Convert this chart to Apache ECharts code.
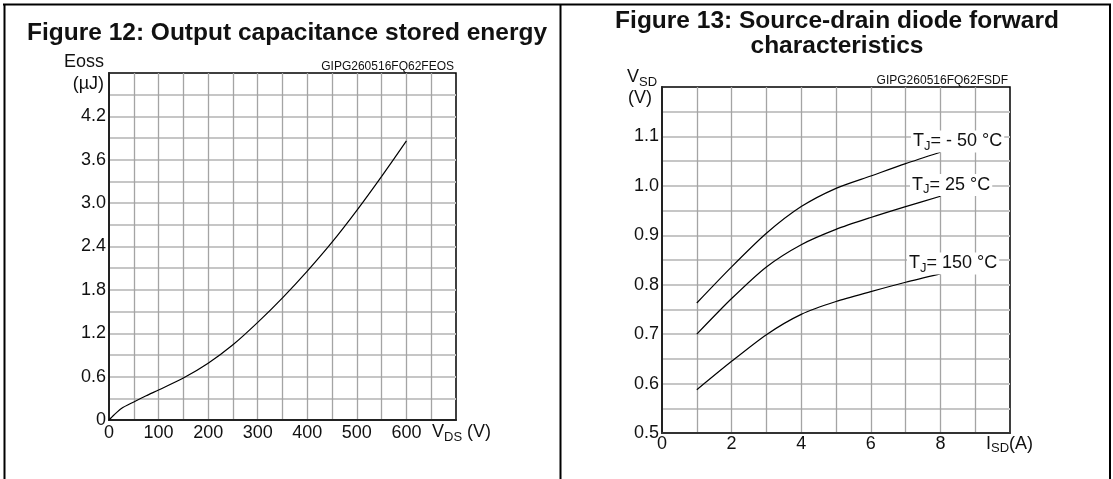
<!DOCTYPE html>
<html>
<head>
<meta charset="utf-8">
<title>Figure 12 / Figure 13</title>
<script src="https://cdn.jsdelivr.net/npm/echarts@6/dist/echarts.min.js"></script>
</head>
<body style="margin:0;background:#fff">
<div id="main" style="width:1113px;height:479px;"></div>
<script>
// Figure 12: output capacitance stored energy
var vds = [0, 10, 25, 50, 75, 100, 150, 200, 250, 300, 350, 400, 450, 500, 550, 600];
var eoss = [0, 0.07, 0.16, 0.25, 0.335, 0.415, 0.58, 0.785, 1.04, 1.35, 1.69, 2.06, 2.46, 2.90, 3.37, 3.86];
var vdsTicks = [0, 100, 200, 300, 400, 500, 600];
var eossTicks = ['0', '0.6', '1.2', '1.8', '2.4', '3.0', '3.6', '4.2'];

// Figure 13: source-drain diode forward characteristics
var isd = [1, 2, 3, 4, 5, 6, 7, 8];
var vsdM50 = [0.763, 0.836, 0.904, 0.958, 0.995, 1.02, 1.045, 1.068];
var vsd25 = [0.70, 0.772, 0.836, 0.881, 0.912, 0.936, 0.958, 0.979];
var vsd150 = [0.5875, 0.645, 0.699, 0.740, 0.766, 0.786, 0.805, 0.822];
var isdTicks = [0, 2, 4, 6, 8];
var vsdTicks = ['0.5', '0.6', '0.7', '0.8', '0.9', '1.0', '1.1'];

var FONT = '"Liberation Sans", Arial, sans-serif';

function pairs(xs, ys) {
    return xs.map(function (x, i) { return [x, ys[i]]; });
}
function pick(list) {
    return function (v) {
        for (var i = 0; i < list.length; i++) {
            if (Math.abs(parseFloat(list[i]) - v) < 1e-6) return String(list[i]);
        }
        return '';
    };
}

var vLines = { show: true, showMinLine: false, showMaxLine: false, lineStyle: { color: '#a4a4a4', width: 1.3 } };
var hLines = { show: true, showMinLine: false, showMaxLine: false, lineStyle: { color: '#c6c6c6', width: 2 } };
var tickFont = { fontSize: 18, color: '#111', fontFamily: FONT };
var curve = { color: '#000', width: 1.2 };

var sub = {
    m: { fontSize: 18, lineHeight: 22, verticalAlign: 'middle', fontFamily: FONT, color: '#111' },
    s: { fontSize: 13, lineHeight: 22, verticalAlign: 'bottom', fontFamily: FONT, color: '#111' }
};

function txt(x, y, text, align, extra) {
    var st = {
        text: text, rich: sub, fill: '#111',
        font: '18px ' + FONT,
        align: align, textAlign: align,
        verticalAlign: 'middle', textVerticalAlign: 'middle'
    };
    for (var k in extra) st[k] = extra[k];
    return { type: 'text', x: x, y: y, z: 100, style: st };
}
function border(x1, y1, x2, y2) {
    return { type: 'line', z: 100, shape: { x1: x1, y1: y1, x2: x2, y2: y2 }, style: { stroke: '#000', lineWidth: 2 } };
}
var titleFont = 'bold 24.5px ' + FONT;

var chart = echarts.init(document.getElementById('main'));
chart.setOption({
    animation: false,
    backgroundColor: '#fff',
    grid: [
        { left: 109, top: 73, width: 347, height: 347, show: true, backgroundColor: '#fff', borderColor: '#000', borderWidth: 1.5 },
        { left: 662, top: 87, width: 348, height: 346, show: true, backgroundColor: '#fff', borderColor: '#000', borderWidth: 1.5 }
    ],
    xAxis: [
        {
            gridIndex: 0, type: 'value', min: 0, max: 700, interval: 50,
            axisLine: { lineStyle: { color: '#222', width: 2 } }, axisTick: { show: false },
            axisLabel: Object.assign({ margin: 4, formatter: pick(vdsTicks) }, tickFont),
            splitLine: vLines
        },
        {
            gridIndex: 1, type: 'value', min: 0, max: 10, interval: 1,
            axisLine: { lineStyle: { color: '#333', width: 2 } }, axisTick: { show: false },
            axisLabel: Object.assign({ margin: 2, formatter: pick(isdTicks) }, tickFont),
            splitLine: vLines
        }
    ],
    yAxis: [
        {
            gridIndex: 0, type: 'value', min: 0, max: 4.8, interval: 0.3,
            axisLine: { show: true, lineStyle: { color: '#222', width: 2 } }, axisTick: { show: false },
            axisLabel: Object.assign({ margin: 3, formatter: pick(eossTicks) }, tickFont),
            splitLine: hLines
        },
        {
            gridIndex: 1, type: 'value', min: 0.5, max: 1.2, interval: 0.05,
            axisLine: { show: true, lineStyle: { color: '#222', width: 2 } }, axisTick: { show: false },
            axisLabel: Object.assign({ margin: 3, formatter: pick(vsdTicks) }, tickFont),
            splitLine: hLines
        }
    ],
    series: [
        { type: 'line', xAxisIndex: 0, yAxisIndex: 0, data: pairs(vds, eoss), smooth: 0.25, symbol: 'none', lineStyle: curve },
        { type: 'line', xAxisIndex: 1, yAxisIndex: 1, data: pairs(isd, vsdM50), smooth: 0.25, symbol: 'none', lineStyle: curve },
        { type: 'line', xAxisIndex: 1, yAxisIndex: 1, data: pairs(isd, vsd25), smooth: 0.25, symbol: 'none', lineStyle: curve },
        { type: 'line', xAxisIndex: 1, yAxisIndex: 1, data: pairs(isd, vsd150), smooth: 0.25, symbol: 'none', lineStyle: curve }
    ],
    graphic: [
        border(3, 4.5, 1111, 4.5),
        border(4.5, 4, 4.5, 479),
        border(560.5, 4, 560.5, 479),
        border(1110, 4, 1110, 479),
        { type: 'text', x: 287, y: 33.5, z: 100, style: { text: 'Figure 12: Output capacitance stored energy', font: titleFont, fill: '#111', align: 'center', textAlign: 'center', verticalAlign: 'middle', textVerticalAlign: 'middle' } },
        { type: 'text', x: 837, y: 34, z: 100, style: { text: 'Figure 13: Source-drain diode forward\ncharacteristics', font: titleFont, lineHeight: 25, fill: '#111', align: 'center', textAlign: 'center', verticalAlign: 'middle', textVerticalAlign: 'middle' } },
        { type: 'text', x: 454, y: 67, z: 100, style: { text: 'GIPG260516FQ62FEOS', font: '12px ' + FONT, fill: '#111', align: 'right', textAlign: 'right', verticalAlign: 'middle', textVerticalAlign: 'middle' } },
        { type: 'text', x: 1008, y: 81, z: 100, style: { text: 'GIPG260516FQ62FSDF', font: '12px ' + FONT, fill: '#111', align: 'right', textAlign: 'right', verticalAlign: 'middle', textVerticalAlign: 'middle' } },
        txt(104, 62, '{m|Eoss}', 'right'),
        txt(104, 84, '{m|(µJ)}', 'right'),
        txt(432, 432.5, '{m|V}{s|DS}{m| (V)}', 'left'),
        txt(627, 77.5, '{m|V}{s|SD}', 'left'),
        txt(628, 98, '{m|(V)}', 'left'),
        txt(986, 444, '{m|I}{s|SD}{m|(A)}', 'left'),
        txt(911, 141.5, '{m|T}{s|J}{m|= - 50 °C}', 'left', { backgroundColor: '#fff', padding: [0, 2] }),
        txt(910, 185, '{m|T}{s|J}{m|= 25 °C}', 'left', { backgroundColor: '#fff', padding: [0, 2] }),
        txt(907, 263.5, '{m|T}{s|J}{m|= 150 °C}', 'left', { backgroundColor: '#fff', padding: [0, 2] })
    ]
});
</script>
</body>
</html>
